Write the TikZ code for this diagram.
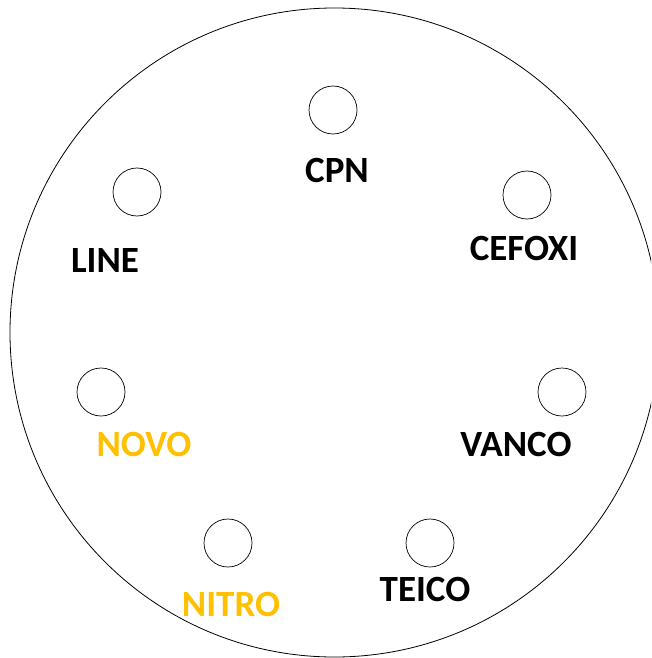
\documentclass[tikz,border=0pt]{standalone}
\usepackage{fontspec}
\setmainfont{Carlito}
\definecolor{gold}{HTML}{FFC000}
\begin{document}
\begin{tikzpicture}[x=1pt,y=-1pt,
  well/.style={circle,draw,line width=0.7pt,minimum size=48pt,inner sep=0pt},
  lab/.style={font=\bfseries\fontsize{37}{37}\selectfont,inner sep=0pt,anchor=center},
  hl/.style={lab,text=gold}]
\useasboundingbox (0,0) rectangle (651,658);
\begin{scope}
\clip (0,0) rectangle (651,658);
\node[circle,draw,line width=0.8pt,minimum size=649pt,inner sep=0pt] (plate) at (334.5,332.5) {};
\end{scope}
\node[well] (w1) at (333,110) {};
\node[well] (w2) at (137,192) {};
\node[well] (w3) at (527,195) {};
\node[well] (w4) at (562,392) {};
\node[well] (w5) at (101,392) {};
\node[well] (w6) at (228,543) {};
\node[well] (w7) at (430,543) {};
\node[lab] (t1) at (337,170) {CPN};
\node[lab] (t2) at (105,261) {LINE};
\node[lab] (t3) at (524,248) {CEFOXI};
\node[lab] (t4) at (516,444) {VANCO};
\node[hl] (t5) at (144,444) {NOVO};
\node[hl] (t6) at (231,604) {NITRO};
\node[lab] (t7) at (425,589) {TEICO};
\end{tikzpicture}
\end{document}
